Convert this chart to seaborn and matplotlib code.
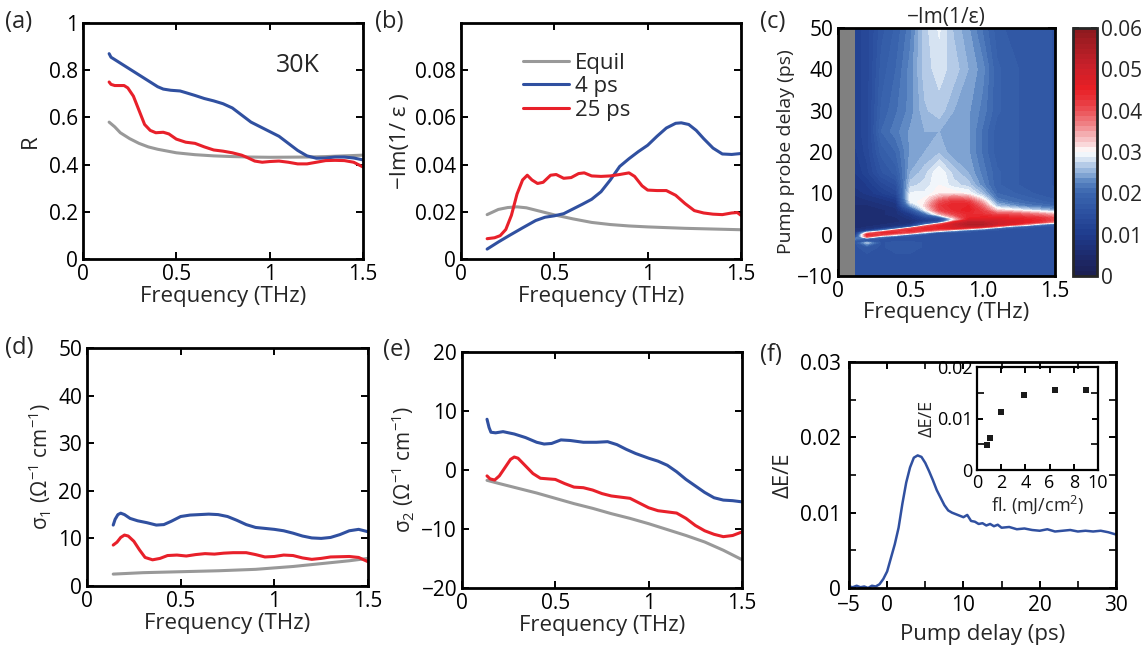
import numpy as np
import pandas as pd
import matplotlib
matplotlib.use("Agg")
import matplotlib.pyplot as plt
import seaborn as sns
from matplotlib.colors import LinearSegmentedColormap

# ---------------- data ----------------
# (a) reflectivity R
a_eq_f = [0.14, 0.17, 0.2, 0.25, 0.3, 0.35, 0.4, 0.5, 0.6, 0.7, 0.8, 0.9, 1.0, 1.2, 1.3, 1.4, 1.5]
a_eq_R = [0.58, 0.56, 0.535, 0.51, 0.49, 0.475, 0.465, 0.45, 0.442, 0.437, 0.434, 0.432, 0.431, 0.432, 0.434, 0.437, 0.44]
a_4_f = [0.14, 0.15, 0.17, 0.2, 0.25, 0.3, 0.35, 0.4, 0.43, 0.47, 0.52, 0.55, 0.6, 0.65, 0.7, 0.75,
         0.8, 0.85, 0.9, 0.95, 1.0, 1.05, 1.1, 1.15, 1.2, 1.25, 1.3, 1.35, 1.4, 1.45, 1.5]
a_4_R = [0.87, 0.855, 0.845, 0.83, 0.805, 0.78, 0.755, 0.73, 0.72, 0.715, 0.712, 0.705, 0.693, 0.68, 0.67, 0.658,
         0.64, 0.61, 0.58, 0.56, 0.54, 0.52, 0.49, 0.46, 0.437, 0.427, 0.428, 0.432, 0.432, 0.428, 0.42]
a_25_f = [0.14, 0.15, 0.17, 0.2, 0.22, 0.24, 0.27, 0.3, 0.33, 0.36, 0.39, 0.43, 0.46, 0.5, 0.55, 0.6, 0.65,
          0.7, 0.75, 0.8, 0.85, 0.88, 0.92, 0.96, 1.0, 1.05, 1.1, 1.15, 1.2, 1.25, 1.3, 1.35, 1.4, 1.45, 1.5]
a_25_R = [0.75, 0.74, 0.735, 0.735, 0.735, 0.725, 0.69, 0.63, 0.57, 0.545, 0.535, 0.537, 0.53, 0.508, 0.495, 0.49, 0.475,
          0.462, 0.457, 0.45, 0.44, 0.43, 0.415, 0.41, 0.413, 0.415, 0.41, 0.403, 0.403, 0.41, 0.417, 0.418, 0.417, 0.41, 0.39]

# (b) loss function -Im(1/eps)
b_eq_f = [0.14, 0.2, 0.25, 0.3, 0.35, 0.4, 0.5, 0.6, 0.7, 0.8, 0.9, 1.0, 1.1, 1.2, 1.3, 1.4, 1.5]
b_eq_v = [0.0188, 0.021, 0.0218, 0.0221, 0.0217, 0.0207, 0.0187, 0.017, 0.0155, 0.0146, 0.014, 0.0136, 0.0133, 0.013, 0.0128, 0.0126, 0.0124]
b_4_f = [0.14, 0.2, 0.264, 0.33, 0.4, 0.45, 0.5, 0.55, 0.6, 0.65, 0.7, 0.75, 0.8, 0.85, 0.9, 0.95, 1.0,
         1.05, 1.1, 1.15, 1.18, 1.22, 1.26, 1.3, 1.35, 1.4, 1.45, 1.5]
b_4_v = [0.0042, 0.0072, 0.0102, 0.0132, 0.0163, 0.0177, 0.0183, 0.0192, 0.0212, 0.0232, 0.0253, 0.0285, 0.0335, 0.0392, 0.0425, 0.0455, 0.0482,
         0.052, 0.0555, 0.0575, 0.0577, 0.057, 0.0545, 0.051, 0.047, 0.0445, 0.0443, 0.0447]
b_25_f = [0.14, 0.18, 0.21, 0.24, 0.27, 0.3, 0.33, 0.355, 0.38, 0.41, 0.44, 0.48, 0.51, 0.55, 0.59, 0.63, 0.66, 0.7,
          0.75, 0.8, 0.85, 0.9, 0.93, 0.97, 1.0, 1.05, 1.1, 1.15, 1.2, 1.25, 1.3, 1.35, 1.4, 1.45, 1.48, 1.5]
b_25_v = [0.0086, 0.009, 0.0099, 0.0125, 0.0185, 0.0275, 0.0335, 0.0355, 0.0335, 0.032, 0.0325, 0.0355, 0.0358, 0.0342, 0.0345, 0.0362, 0.0365, 0.0352,
          0.035, 0.0352, 0.0358, 0.0365, 0.035, 0.031, 0.0292, 0.029, 0.029, 0.027, 0.0235, 0.0205, 0.0195, 0.019, 0.0188, 0.0195, 0.0197, 0.0185]

# (c) map of -Im(1/eps), values x1e-3; one list per frequency, running over c_delay
c_freq = [0.12, 0.2, 0.3, 0.4, 0.5, 0.6, 0.7, 0.8, 0.9, 1.0, 1.1, 1.2, 1.3, 1.4, 1.5]
c_delay = [-10, -5, -3, -2, -1.5, -1, -0.5, 0, 0.5, 1, 1.5, 2, 2.5, 3, 3.5, 4, 5, 6, 7, 8, 9, 10, 12, 15, 20, 25, 30, 40, 50]
c_f012 = [16, 16, 16, 16, 17, 22, 14, 10, 8, 7, 6, 6, 6, 6, 6, 6, 6, 6, 6, 7, 7, 8, 9, 10, 11, 12, 12, 12, 12]
c_f020 = [16, 16, 17, 26, 17, 18, 40, 44, 30, 10, 7, 6, 6, 6, 6, 6, 6, 6, 6, 7, 8, 9, 10, 12, 13, 13, 13, 13, 13]
c_f030 = [16, 16, 16, 16, 16, 16, 22, 42, 44, 22, 9, 7, 6, 6, 6, 6, 6, 6, 7, 8, 9, 11, 13, 16, 18, 20, 19, 18, 17]
c_f040 = [16, 16, 17, 17, 16, 16, 16, 32, 44, 42, 18, 8, 7, 6, 6, 6, 7, 7, 8, 9, 11, 13, 15, 18, 20, 22, 21, 20, 19]
c_f050 = [16, 16, 17, 17, 16, 16, 16, 20, 40, 44, 40, 14, 8, 7, 7, 8, 10, 16, 24, 29, 30, 29, 27, 25, 24, 24, 23, 23, 22]
c_f060 = [16, 16, 16, 16, 16, 16, 16, 16, 26, 42, 45, 40, 20, 12, 10, 12, 20, 29, 32, 31, 30, 29, 28, 27, 25, 25, 26, 27, 27]
c_f070 = [16, 16, 16, 16, 16, 16, 16, 16, 16, 35, 45, 46, 40, 18, 12, 14, 34, 41, 42, 40, 35, 31, 30, 30, 26, 25, 27, 28, 29]
c_f080 = [16, 16, 16, 16, 16, 16, 16, 16, 16, 25, 46, 49, 50, 45, 30, 33, 41, 44, 45, 43, 38, 31, 28, 27, 24, 24, 25, 27, 26]
c_f090 = [16, 16, 16, 16, 16, 16, 16, 16, 16, 18, 38, 52, 54, 52, 48, 45, 44, 46, 45, 42, 36, 30, 27, 25, 24, 24, 24, 25, 24]
c_f100 = [16, 16, 16, 16, 16, 16, 16, 16, 16, 16, 28, 50, 54, 52, 48, 46, 43, 41, 38, 34, 29, 26, 23, 22, 21, 21, 22, 23, 21]
c_f110 = [16, 16, 16, 16, 16, 16, 16, 16, 16, 16, 18, 38, 50, 50, 48, 46, 40, 32, 26, 23, 21, 20, 19, 19, 18, 18, 19, 19, 18]
c_f120 = [16, 16, 16, 16, 16, 16, 16, 16, 16, 16, 16, 24, 46, 48, 47, 45, 40, 30, 24, 21, 20, 19, 18, 18, 18, 18, 18, 18, 17]
c_f130 = [16, 16, 16, 16, 16, 16, 16, 16, 16, 16, 16, 18, 36, 46, 46, 44, 38, 28, 22, 20, 19, 18, 17, 17, 17, 17, 17, 17, 17]
c_f140 = [16, 16, 16, 16, 16, 16, 16, 16, 16, 16, 16, 16, 24, 42, 44, 43, 36, 26, 21, 19, 18, 17, 17, 17, 17, 17, 17, 17, 17]
c_f150 = [16, 16, 16, 16, 16, 16, 16, 16, 16, 16, 16, 16, 18, 34, 40, 40, 33, 24, 20, 18, 17, 17, 16, 16, 16, 16, 16, 16, 16]

# (d) sigma1
d_eq_f = [0.14, 0.3, 0.5, 0.7, 0.9, 1.0, 1.1, 1.2, 1.3, 1.4, 1.5]
d_eq_v = [2.5, 2.8, 3.0, 3.2, 3.5, 3.8, 4.1, 4.5, 4.9, 5.3, 5.8]
d_4_f = [0.14, 0.15, 0.165, 0.18, 0.2, 0.23, 0.27, 0.32, 0.37, 0.41, 0.45, 0.5, 0.55, 0.6, 0.65, 0.7, 0.75, 0.8,
         0.85, 0.9, 0.95, 1.0, 1.05, 1.1, 1.15, 1.2, 1.25, 1.3, 1.35, 1.4, 1.45, 1.5]
d_4_v = [12.8, 14.0, 15.0, 15.3, 15.0, 14.2, 13.7, 13.3, 12.8, 12.9, 13.6, 14.6, 14.9, 15.0, 15.1, 15.0, 14.6, 13.8,
         12.9, 12.3, 12.1, 11.9, 11.6, 11.1, 10.5, 10.1, 10.0, 10.2, 10.8, 11.6, 11.9, 11.4]
d_25_f = [0.14, 0.16, 0.18, 0.2, 0.22, 0.25, 0.28, 0.31, 0.35, 0.39, 0.43, 0.48, 0.53, 0.58, 0.63, 0.68, 0.73, 0.78,
          0.85, 0.9, 0.95, 1.0, 1.05, 1.1, 1.15, 1.2, 1.25, 1.3, 1.4, 1.45, 1.5]
d_25_v = [8.6, 9.2, 10.2, 10.7, 10.5, 9.4, 7.6, 6.0, 5.5, 5.8, 6.4, 6.5, 6.3, 6.6, 6.8, 6.7, 6.9, 7.0,
          7.0, 6.6, 6.1, 6.2, 6.5, 6.4, 5.9, 5.6, 5.8, 6.1, 6.2, 6.0, 5.1]

# (e) sigma2
e_eq_f = [0.134, 0.2, 0.3, 0.4, 0.5, 0.6, 0.7, 0.8, 0.9, 1.0, 1.1, 1.2, 1.3, 1.4, 1.5]
e_eq_v = [-1.75, -2.3, -3.1, -3.9, -4.8, -5.7, -6.5, -7.4, -8.2, -9.1, -10.1, -11.1, -12.2, -13.6, -15.2]
e_4_f = [0.134, 0.145, 0.155, 0.18, 0.22, 0.28, 0.34, 0.4, 0.44, 0.48, 0.53, 0.58, 0.65, 0.72, 0.78, 0.83, 0.88,
         0.93, 1.0, 1.05, 1.1, 1.15, 1.2, 1.25, 1.3, 1.35, 1.4, 1.45, 1.5]
e_4_v = [8.6, 7.2, 6.4, 6.3, 6.5, 6.1, 5.5, 4.7, 4.4, 4.5, 5.1, 5.0, 4.7, 4.7, 4.8, 4.3, 3.5,
         2.8, 2.0, 1.5, 0.8, -0.3, -1.6, -2.7, -3.8, -4.7, -5.1, -5.2, -5.4]
e_25_f = [0.134, 0.15, 0.175, 0.2, 0.23, 0.26, 0.28, 0.3, 0.34, 0.38, 0.42, 0.46, 0.5, 0.55, 0.6, 0.65, 0.7, 0.75,
          0.8, 0.85, 0.9, 0.95, 1.0, 1.05, 1.1, 1.15, 1.2, 1.25, 1.3, 1.35, 1.4, 1.45, 1.5]
e_25_v = [-1.0, -1.5, -1.7, -1.0, 0.4, 1.8, 2.2, 2.0, 0.7, -0.6, -1.4, -1.5, -1.6, -2.3, -2.9, -3.0, -3.4, -4.0,
          -4.4, -4.6, -4.8, -5.6, -6.4, -6.9, -7.1, -7.3, -8.2, -9.4, -10.3, -10.9, -11.3, -11.1, -10.5]

# (f) transient dE/E versus pump delay
f_t = [-5, -4.5, -4, -3.5, -3, -2.5, -2, -1.5, -1, -0.5, 0, 0.5, 1, 1.5, 2, 2.5, 3, 3.5, 4, 4.5, 5,
       5.5, 6, 6.5, 7, 7.5, 8, 8.5, 9, 9.5, 10, 10.5, 11, 11.5, 12, 12.5, 13, 13.5, 14, 14.5, 15, 16, 17, 18, 19, 20,
       21, 22, 23, 24, 25, 26, 27, 28, 29, 30]
f_v = [0.0002, 0.0001, 0.0003, 0.0001, 0.0002, 0.0000, 0.0003, 0.0002, 0.0005, 0.0012, 0.0022,
       0.0040, 0.0058, 0.0080, 0.0112, 0.0140, 0.0160, 0.0173, 0.0176, 0.0174, 0.0166, 0.0155,
       0.0143, 0.0130, 0.0120, 0.0110, 0.0103, 0.0100, 0.0098, 0.0096, 0.0094, 0.0097, 0.0089,
       0.0088, 0.0085, 0.0086, 0.0083, 0.0085, 0.0082, 0.0084, 0.0080, 0.0081, 0.0078, 0.0079, 0.0077, 0.0076, 0.0078,
       0.0075, 0.0076, 0.0077, 0.0075, 0.0076, 0.0075, 0.0076, 0.0074, 0.0071]
# inset: dE/E versus fluence
inset_fl = [0.83, 1.07, 1.98, 3.88, 6.45, 8.98]
inset_v = [0.0049, 0.0063, 0.0113, 0.01455, 0.0155, 0.0155]

# ---------------- style ----------------
sns.set_theme(style="ticks")
plt.rcParams['font.family'] = ['Open Sans', 'DejaVu Sans']
plt.rcParams['mathtext.fontset'] = 'custom'
plt.rcParams['mathtext.rm'] = 'Open Sans'
plt.rcParams['mathtext.it'] = 'Open Sans:italic'
plt.rcParams['axes.unicode_minus'] = True
plt.rcParams['lines.solid_joinstyle'] = 'round'
plt.rcParams['lines.solid_capstyle'] = 'round'

BLUE = '#3050a0'
RED = '#e8202a'
GRAY = '#999999'
FS = 15
LFS = 16
LW = 2.2

fig = plt.figure(figsize=(11.48, 6.51), dpi=100)


def W(l, r, t, b):
    return [l / 1148, 1 - b / 651, (r - l) / 1148, (b - t) / 651]


def style(ax, fs=FS):
    for s in ax.spines.values():
        s.set_linewidth(2.0)
        s.set_color('black')
    ax.tick_params(direction='in', top=True, right=True, length=5, width=1.4,
                   labelsize=fs, pad=3.5, colors='black')
    ax.tick_params(which='minor', direction='in', top=True, right=True, length=5, width=1.4)


def lines(ax, series):
    for x, y, c in series:
        sns.lineplot(x=x, y=y, ax=ax, color=c, lw=LW, sort=False, estimator=None)


ax_a = fig.add_axes(W(83, 363, 23, 259))
ax_b = fig.add_axes(W(461, 741, 23, 259))
ax_c = fig.add_axes(W(838, 1055, 28, 276))
cax = fig.add_axes(W(1073, 1097, 28, 276))
ax_d = fig.add_axes(W(87, 368, 348, 586))
ax_e = fig.add_axes(W(462, 742, 352, 588))
ax_f = fig.add_axes(W(849, 1116, 362, 588))
ax_i = fig.add_axes(W(977, 1098, 367, 470))

freq_ticks = [0, 0.5, 1, 1.5]
freq_labels = ['0', '0.5', '1', '1.5']

# (a)
lines(ax_a, [(a_eq_f, a_eq_R, GRAY), (a_4_f, a_4_R, BLUE), (a_25_f, a_25_R, RED)])
ax_a.set_xlim(0, 1.5); ax_a.set_ylim(0, 1)
ax_a.set_xticks(freq_ticks, freq_labels)
ax_a.set_yticks([0, 0.2, 0.4, 0.6, 0.8, 1], ['0', '0.2', '0.4', '0.6', '0.8', '1'])
ax_a.set_xlabel('Frequency (THz)', fontsize=LFS, labelpad=1)
ax_a.set_ylabel('R', fontsize=LFS, labelpad=6)
ax_a.text(1.15, 0.82, '30K', fontsize=18, ha='center', va='center')
style(ax_a)

# (b)
for x, y, c, lab in [(b_eq_f, b_eq_v, GRAY, 'Equil'), (b_4_f, b_4_v, BLUE, '4 ps'), (b_25_f, b_25_v, RED, '25 ps')]:
    sns.lineplot(x=x, y=y, ax=ax_b, color=c, lw=LW, sort=False, estimator=None, label=lab)
ax_b.set_xlim(0, 1.5); ax_b.set_ylim(0, 0.1)
ax_b.set_xticks(freq_ticks, freq_labels)
ax_b.set_yticks([0, 0.02, 0.04, 0.06, 0.08], ['0', '0.02', '0.04', '0.06', '0.08'])
ax_b.set_xlabel('Frequency (THz)', fontsize=LFS, labelpad=1)
ax_b.set_ylabel('\u2212Im(1/ \u03b5 )', fontsize=LFS, labelpad=3)
ax_b.legend(loc='upper left', bbox_to_anchor=(0.22, 0.875), frameon=False, fontsize=FS + 1,
            handlelength=2.1, handletextpad=0.25, labelspacing=0.12, borderaxespad=0, borderpad=0)
style(ax_b)

# (c)
cmap = LinearSegmentedColormap.from_list('lossmap', [
    (0.00, '#1c1f50'), (0.08, '#1d2a6c'), (0.17, '#1f3c8e'), (0.27, '#2f55a3'),
    (0.34, '#3d68b0'), (0.38, '#5a85c2'), (0.42, '#8fb0d9'), (0.47, '#d5e2f2'),
    (0.50, '#ffffff'), (0.55, '#f7c5c8'), (0.62, '#ef7a7f'), (0.70, '#e93a40'),
    (0.76, '#e81f25'), (0.85, '#c8202a'), (1.00, '#8b1a1e')])
Z = np.array([c_f012, c_f020, c_f030, c_f040, c_f050, c_f060, c_f070, c_f080,
              c_f090, c_f100, c_f110, c_f120, c_f130, c_f140, c_f150]).T / 1000.0
levels = np.linspace(0, 0.06, 49)
cs = ax_c.contourf(c_freq, c_delay, Z, levels=levels, cmap=cmap)
ax_c.axvspan(0, 0.12, color='#808080', lw=0)
ax_c.set_xlim(0, 1.5); ax_c.set_ylim(-10, 50)
ax_c.set_xticks([0, 0.5, 1.0, 1.5], ['0', '0.5', '1.0', '1.5'])
ax_c.set_yticks([-10, 0, 10, 20, 30, 40, 50])
ax_c.set_xlabel('Frequency (THz)', fontsize=LFS, labelpad=0)
ax_c.set_ylabel('Pump probe delay (ps)', fontsize=14, labelpad=2)
ax_c.set_title('\u2212Im(1/\u03b5)', fontsize=FS, pad=3)
style(ax_c)
cb = fig.colorbar(cs, cax=cax, ticks=[0, 0.01, 0.02, 0.03, 0.04, 0.05, 0.06])
cb.ax.set_yticklabels(['0', '0.01', '0.02', '0.03', '0.04', '0.05', '0.06'])
cb.outline.set_linewidth(2.0)
cax.tick_params(direction='in', left=True, right=True, length=4, width=1.2, labelsize=FS, pad=3)
cax.set_ylim(0, 0.06)

# (d)
lines(ax_d, [(d_eq_f, d_eq_v, GRAY), (d_4_f, d_4_v, BLUE), (d_25_f, d_25_v, RED)])
ax_d.set_xlim(0, 1.5); ax_d.set_ylim(0, 50)
ax_d.set_xticks(freq_ticks, freq_labels)
ax_d.set_yticks([0, 10, 20, 30, 40, 50])
ax_d.set_xlabel('Frequency (THz)', fontsize=LFS, labelpad=1)
ax_d.set_ylabel('\u03c3$_1$ (\u03a9$^{-1}$ cm$^{-1}$)', fontsize=FS, labelpad=3)
style(ax_d)

# (e)
lines(ax_e, [(e_eq_f, e_eq_v, GRAY), (e_4_f, e_4_v, BLUE), (e_25_f, e_25_v, RED)])
ax_e.set_xlim(0, 1.5); ax_e.set_ylim(-20, 20)
ax_e.set_xticks(freq_ticks, freq_labels)
ax_e.set_yticks([-20, -10, 0, 10, 20])
ax_e.set_xlabel('Frequency (THz)', fontsize=LFS, labelpad=1)
ax_e.set_ylabel('\u03c3$_2$ (\u03a9$^{-1}$ cm$^{-1}$)', fontsize=FS, labelpad=3)
style(ax_e)

# (f)
sns.lineplot(x=f_t, y=f_v, ax=ax_f, color=BLUE, lw=1.8, sort=False, estimator=None)
ax_f.set_xlim(-5, 30); ax_f.set_ylim(0, 0.03)
ax_f.set_xticks([-5, 0, 10, 20, 30])
ax_f.set_xticks([5, 15, 25], minor=True)
ax_f.set_yticks([0, 0.01, 0.02, 0.03], ['0', '0.01', '0.02', '0.03'])
ax_f.set_yticks([0.005, 0.015, 0.025], minor=True)
ax_f.set_xlabel('Pump delay (ps)', fontsize=LFS, labelpad=6)
ax_f.set_ylabel('\u0394E/E', fontsize=LFS, labelpad=4)
style(ax_f)
ax_f.tick_params(axis='y', pad=6)
ax_f.tick_params(axis='x', pad=5)

# inset
sns.scatterplot(x=inset_fl, y=inset_v, ax=ax_i, marker='s', color='#1a1a1a', s=18, edgecolor='none')
ax_i.set_xlim(0, 10); ax_i.set_ylim(0, 0.02)
ax_i.set_xticks([0, 2, 4, 6, 8, 10])
ax_i.set_yticks([0, 0.01, 0.02], ['0', '0.01', '0.02'])
ax_i.set_yticks([0.005, 0.015], minor=True)
ax_i.set_xlabel('fl. (mJ/cm$^2$)', fontsize=13, labelpad=1)
ax_i.set_ylabel('\u0394E/E', fontsize=13, labelpad=1)
style(ax_i, fs=13)
for s in ax_i.spines.values():
    s.set_linewidth(1.6)
ax_i.tick_params(pad=3, length=4)
ax_i.patch.set_alpha(0)

# panel labels
for txt, x, y in [('(a)', 5, 22), ('(b)', 375, 22), ('(c)', 760, 22),
                  ('(d)', 5, 348), ('(e)', 383, 350), ('(f)', 760, 355)]:
    fig.text(x / 1148, 1 - y / 651, txt, fontsize=17, ha='left', va='center')

fig.savefig('out.png', dpi=100)
